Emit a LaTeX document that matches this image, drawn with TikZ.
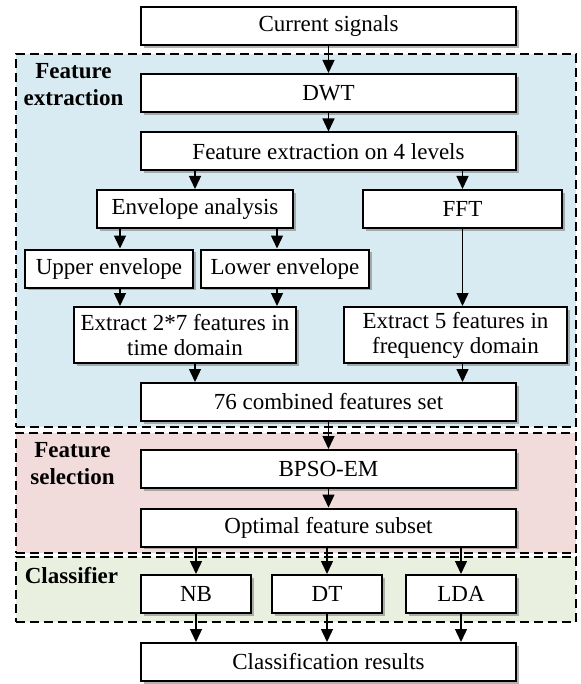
\documentclass[tikz,border=0pt]{standalone}
\usepackage{fontspec}
\setmainfont{Liberation Serif}
\usetikzlibrary{arrows.meta,shadows,positioning,calc}
\definecolor{c1}{RGB}{217,235,242}
\definecolor{c2}{RGB}{241,219,219}
\definecolor{c3}{RGB}{234,240,223}

\begin{document}
\begin{tikzpicture}[x=0.5pt,y=-0.5pt,
  block/.style={rectangle,draw=black,fill=white,line width=1pt,
                minimum height=19pt,inner sep=1pt,align=center,
                font=\fontsize{11.5}{12.5}\selectfont,
                drop shadow={shadow xshift=1.4pt,shadow yshift=-1.4pt,opacity=0.6}},
  wide/.style={block,minimum width=187.5pt},
  small/.style={block,minimum width=55pt},
  stage/.style={rectangle,draw=black,line width=1pt,dash pattern=on 4.5pt off 2.5pt,
                inner sep=0pt,outer sep=0pt,minimum width=280pt},
  tag/.style={font=\fontsize{11.5}{13.5}\selectfont\bfseries,align=center},
  arr/.style={-{Triangle[length=6.5pt,width=6pt]},line width=0.7pt}]
  \useasboundingbox (0,0) rectangle (581,684);
  % stages
  \node (fe) [stage,fill=c1,minimum height=186.5pt] at (296,240.5) {};
  \node (fs) [stage,fill=c2,minimum height=60pt] at (296,493) {};
  \node (cl) [stage,fill=c3,minimum height=32.5pt] at (296,589.5) {};
  \node [tag] at (73.5,85) {Feature\\extraction};
  \node [tag] at (72.5,464) {Feature\\selection};
  \node [tag] at (71.5,576) {Classifier};
  % column guides
  \coordinate (ca) at (120,0);
  \coordinate (cb) at (277,0);
  % blocks
  \node (sig)  [wide] at (328.5,26) {Current signals};
  \node (dwt)  [wide] at (328.5,93) {DWT};
  \node (lev)  [wide] at (328.5,151.5) {Feature extraction on 4 levels};
  \node (env)  [block,minimum width=98pt] at (195,209) {Envelope analysis};
  \node (fft)  [block,minimum width=99.5pt] at (462.5,209) {FFT};
  \node (up)   [block,minimum width=84pt] at (109,268.5) {Upper envelope};
  \node (low)  [block,minimum width=84pt] at (285,268.5) {Lower envelope};
  \node (ext1) [block,minimum width=111pt,minimum height=28pt] at (185,335) {Extract 2*7 features in\\time domain};
  \node (ext2) [block,minimum width=111.5pt,minimum height=28pt] at (455.5,335) {Extract 5 features in\\frequency domain};
  \node (comb) [wide] at (328.5,402) {76 combined features set};
  \node (bpso) [wide] at (328.5,469) {BPSO-EM};
  \node (opt)  [wide] at (328.5,527.5) {Optimal feature subset};
  \node (nb)   [small] at (196,594) {NB};
  \node (dt)   [small] at (327,594) {DT};
  \node (lda)  [small] at (461,594) {LDA};
  \node (res)  [wide] at (328.5,662) {Classification results};
  % connectors
  \foreach \a/\b in {sig/dwt,dwt/lev,comb/bpso,bpso/opt}
    \draw[arr] (\a) -- (\b);
  \draw[arr] (lev.south -| env.north) -- (env.north);
  \draw[arr] (lev.south -| fft.north) -- (fft.north);
  \foreach \c/\a/\b in {ca/env/up,ca/up/ext1,cb/env/low,cb/low/ext1}
    \draw[arr] (\a.south -| \c) -- (\b.north -| \c);
  \draw[arr] (fft.south) -- (ext2.north -| fft.south);
  \draw[arr] (ext1.south -| env.south) -- (comb.north -| env.south);
  \draw[arr] (ext2.south -| fft.south) -- (comb.north -| fft.south);
  \foreach \n in {nb,dt,lda}{
    \draw[arr] (opt.south -| \n.north) -- (\n.north);
    \draw[arr] (\n.south) -- (res.north -| \n.south);
  }
\end{tikzpicture}
\end{document}
